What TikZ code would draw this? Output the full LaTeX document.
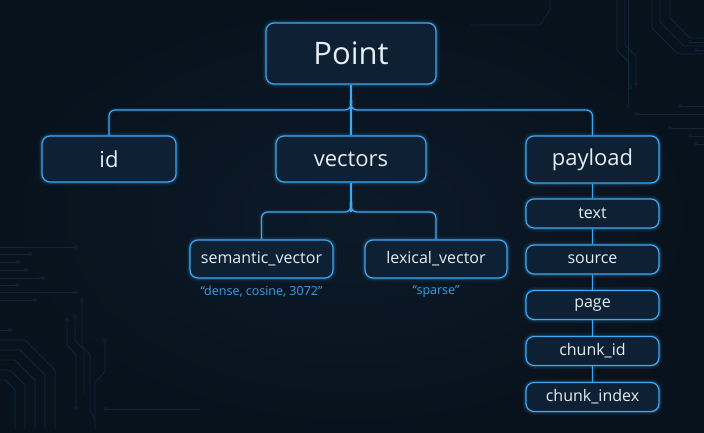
\documentclass[tikz,border=0pt]{standalone}
\usepackage{fontspec}
\setmainfont{Open Sans}
\definecolor{bg}{HTML}{08121D}
\definecolor{bgmid}{HTML}{0C1A28}
\definecolor{edge}{HTML}{3FA8F5}
\definecolor{boxfill}{HTML}{0E2033}
\definecolor{txt}{HTML}{E6EDF4}
\definecolor{note}{HTML}{3B9EE6}
\definecolor{trace}{HTML}{0D263A}
\tikzset{
  box/.style={draw=edge, line width=1.2pt, fill=boxfill, rounded corners=8pt,
    text=txt, inner sep=0pt, align=center,
    preaction={draw=edge, line width=7pt, opacity=0.08, rounded corners=8pt},
    preaction={draw=edge, line width=3.5pt, opacity=0.18, rounded corners=8pt}},
  conn/.style={draw=edge, line width=1.2pt, rounded corners=6pt,
    preaction={draw=edge, line width=4pt, opacity=0.12, rounded corners=6pt}},
  notetext/.style={text=note, font=\fontsize{12.5}{14}\selectfont, inner sep=0pt},
  tr/.style={draw=trace, line width=0.8pt},
  dot/.style={draw=trace, line width=0.8pt, fill=bg}
}
\begin{document}
\begin{tikzpicture}[x=1pt,y=1pt]
\useasboundingbox (0,0) rectangle (704,-432);
\fill[bg] (0,0) rectangle (704,-432);
\shade[inner color=bgmid, outer color=bg, shading=radial] (0,0) rectangle (704,-432);

% faint circuit traces bottom-left
\foreach \yy/\xx in {247/76,254/30,262/18,270/26,278/43,285/17,292/76,300/35}{
  \draw[tr] (0,-\yy) -- (\xx,-\yy);
  \draw[dot] (\xx,-\yy) circle (1.6);
}
\draw[tr] (82,-300) -- (82,-345) -- (90,-355) -- (90,-410) -- (95,-420);
\draw[dot] (82,-300) circle (1.6);
\draw[tr] (67,-320) -- (67,-345) -- (76,-355) -- (76,-408);
\draw[dot] (67,-320) circle (1.6);
\draw[dot] (76,-408) circle (1.6);
\draw[tr] (75,-316) -- (75,-340) -- (84,-350) -- (84,-395);
\draw[dot] (75,-316) circle (1.6);
\draw[tr] (105,-340) -- (105,-372) -- (95,-382) -- (95,-430);
\draw[dot] (105,-340) circle (1.6);
\draw[tr] (108,-409) -- (200,-409);
\draw[dot] (106,-409) circle (1.6);
\draw[tr] (0,-340) -- (25,-340) -- (55,-370) -- (55,-430);
\draw[tr] (0,-350) -- (20,-350) -- (45,-375) -- (45,-430);
\draw[tr] (0,-360) -- (15,-360) -- (35,-380) -- (35,-430);
\draw[tr] (0,-370) -- (10,-370) -- (25,-385) -- (25,-430);
\draw[tr] (0,-380) -- (5,-380) -- (15,-390) -- (15,-430);
\draw[tr] (0,-330) -- (10,-330);
\draw[dot] (10,-330) circle (1.6);
% faint circuit traces top-right
\draw[tr] (617,0) -- (617,-50) -- (630,-63) -- (630,-85);
\draw[dot] (630,-87) circle (1.6);
\draw[tr] (625,0) -- (625,-45) -- (636,-56) -- (636,-82);
\draw[dot] (636,-84) circle (1.6);
\draw[tr] (628,0) -- (628,-104);
\draw[dot] (628,-106) circle (1.6);
\draw[tr] (652,0) -- (652,-28) -- (678,-54) -- (704,-54);
\draw[tr] (660,0) -- (660,-22) -- (684,-46) -- (704,-46);
\draw[tr] (670,0) -- (670,-18) -- (690,-38) -- (704,-38);
\foreach \yy/\xx in {42/690,50/696,106/680,114/636,128/670,136/690,144/696}{
  \draw[tr] (\xx,-\yy) -- (704,-\yy);
  \draw[dot] (\xx,-\yy) circle (1.6);
}
\draw[tr] (550,0) -- (550,-10) -- (540,-25) -- (470,-25);

% junction points
\coordinate (j1) at (351,-110);
\coordinate (j1u) at (351,-100);
\coordinate (j2) at (351,-212);
\coordinate (j2u) at (351,-202);

% nodes
\node[box, minimum width=170, minimum height=61, font=\fontsize{31}{36}\selectfont] (point) at (351,-53.5) {Point};
\node[box, minimum width=134, minimum height=46, font=\fontsize{22}{26}\selectfont] (id) at (109,-159) {id};
\node[box, minimum width=150, minimum height=46, font=\fontsize{22}{26}\selectfont] (vectors) at (351,-159) {vectors};
\node[box, minimum width=133, minimum height=47, font=\fontsize{22}{26}\selectfont] (payload) at (592.5,-159.5) {payload};
\node[box, minimum width=143, minimum height=38, font=\fontsize{16}{19}\selectfont] (sem) at (261.5,-259) {semantic\_vector};
\node[box, minimum width=142, minimum height=38, font=\fontsize{16}{19}\selectfont] (lex) at (436,-259) {lexical\_vector};
\node[notetext] (semnote) at (261.5,-292) {\char"201C dense, cosine, 3072\char"201D};
\node[notetext] (lexnote) at (436,-292) {\char"201C sparse\char"201D};
\node[box, minimum width=133, minimum height=29, font=\fontsize{16}{18}\selectfont] (ptext) at (592.5,-213.5) {text};
\node[box, minimum width=133, minimum height=29, font=\fontsize{16}{18}\selectfont] (psource) at (592.5,-259.5) {source};
\node[box, minimum width=133, minimum height=29, font=\fontsize{16}{18}\selectfont] (ppage) at (592.5,-305) {page};
\node[box, minimum width=133, minimum height=29, font=\fontsize{16}{18}\selectfont] (pchunkid) at (592.5,-351) {chunk\_id};
\node[box, minimum width=133, minimum height=29, font=\fontsize{16}{18}\selectfont] (pchunkindex) at (592.5,-397) {chunk\_index};

% connectors
\draw[conn] (id.north) |- (j1) -- (j1u);
\draw[conn] (payload.north) |- (j1) -- (j1u);
\draw[conn] (point.south) -- (vectors.north);
\draw[conn] (sem.north) |- (j2) -- (j2u);
\draw[conn] (lex.north) |- (j2) -- (j2u);
\draw[conn] (vectors.south) -- (j2);
\draw[conn] (payload.south) -- (ptext.north);
\draw[conn] (ptext.south) -- (psource.north);
\draw[conn] (psource.south) -- (ppage.north);
\draw[conn] (ppage.south) -- (pchunkid.north);
\draw[conn] (pchunkid.south) -- (pchunkindex.north);
\end{tikzpicture}
\end{document}
